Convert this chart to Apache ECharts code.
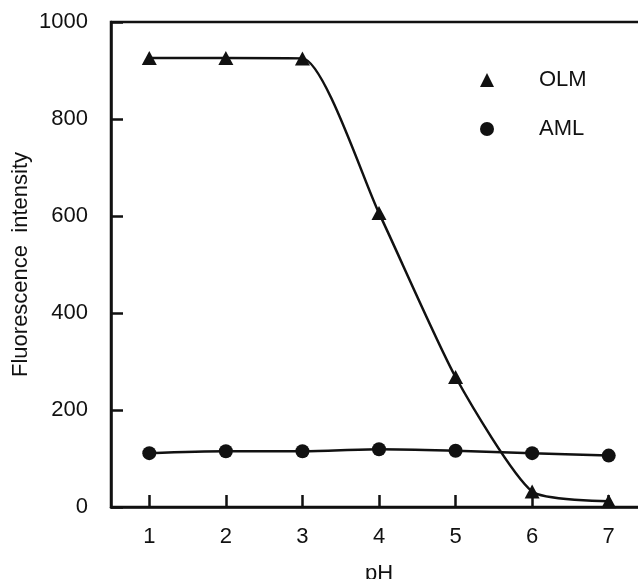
<!DOCTYPE html>
<html>
<head>
<meta charset="utf-8">
<script src="https://cdn.jsdelivr.net/npm/echarts@6/dist/echarts.min.js"></script>
<style>
    html, body { margin: 0; padding: 0; background: #fff; }
    #chart { width: 638px; height: 579px; }
</style>
</head>
<body>
<div id="chart"></div>
<script>
    // pH values on the x axis
    var phValues = [1, 2, 3, 4, 5, 6, 7];
    var phTicks = [1, 2, 3, 4, 5, 6, 7];
    // fluorescence intensity
    var olmValues = [926, 926, 925, 606, 268, 32, 12];
    var amlValues = [111, 115, 115, 119, 116, 111, 106];

    function pairs(xs, ys) {
        return xs.map(function (x, i) { return [x, ys[i]]; });
    }

    var ink = '#111';
    var font = 'Liberation Sans, Arial, sans-serif';

    var chart = echarts.init(document.getElementById('chart'));
    var option = {
        backgroundColor: '#fff',
        animation: false,
        grid: {
            left: 111,
            top: 22,
            bottom: 72,
            width: 536,   // x axis runs to 7.5, past the right edge
            outerBoundsMode: 'none',
            containLabel: false,
            show: true,
            borderColor: ink,
            borderWidth: 2.5
        },
        legend: {
            orient: 'vertical',
            left: 475,
            top: 64,
            itemWidth: 14,
            itemHeight: 14,
            itemGap: 27,
            data: [
                { name: 'OLM', icon: 'triangle' },
                { name: 'AML', icon: 'circle' }
            ],
            textStyle: {
                fontSize: 22,
                color: ink,
                fontFamily: font,
                padding: [0, 0, 0, 40]
            }
        },
        xAxis: {
            type: 'value',
            min: 0.5,
            max: 7.5,
            name: 'pH',
            nameLocation: 'middle',
            nameGap: 56,
            nameMoveOverlap: false,
            nameTextStyle: { fontSize: 22, color: ink, fontFamily: font },
            splitLine: { show: false },
            axisLine: { lineStyle: { color: ink, width: 2.5 } },
            axisTick: {
                inside: true,
                length: 12,
                lineStyle: { color: ink, width: 2.5 },
                customValues: phTicks
            },
            axisLabel: {
                margin: 19,
                fontSize: 22,
                color: ink,
                fontFamily: font,
                customValues: phTicks
            }
        },
        yAxis: {
            type: 'value',
            min: 0,
            max: 1000,
            interval: 200,
            name: 'Fluorescence  intensity',
            nameLocation: 'middle',
            nameGap: 79,
            nameMoveOverlap: false,
            nameTextStyle: { fontSize: 22, color: ink, fontFamily: font },
            splitLine: { show: false },
            axisLine: { show: true, lineStyle: { color: ink, width: 2.5 } },
            axisTick: {
                show: true,
                inside: true,
                length: 12,
                lineStyle: { color: ink, width: 2.5 }
            },
            axisLabel: {
                margin: 23,
                fontSize: 22,
                color: ink,
                fontFamily: font,
                formatter: function (v) { return String(v); }
            }
        },
        series: [
            {
                name: 'OLM',
                type: 'line',
                data: pairs(phValues, olmValues),
                smooth: 0.2,
                symbol: 'triangle',
                symbolSize: [15, 14],
                itemStyle: { color: ink },
                lineStyle: { color: ink, width: 2.5 }
            },
            {
                name: 'AML',
                type: 'line',
                data: pairs(phValues, amlValues),
                smooth: 0.3,
                symbol: 'circle',
                symbolSize: 14,
                itemStyle: { color: ink },
                lineStyle: { color: ink, width: 2.5 }
            }
        ]
    };
    chart.setOption(option);
</script>
</body>
</html>
